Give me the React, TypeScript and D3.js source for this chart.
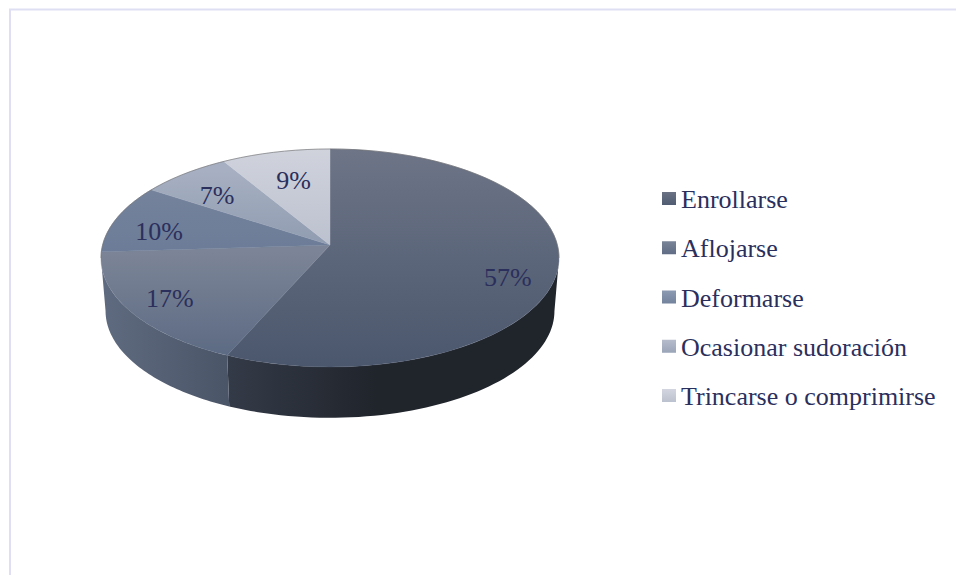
import React from "react";
import * as d3 from "d3";

const categories = ["Enrollarse", "Aflojarse", "Deformarse", "Ocasionar sudoración", "Trincarse o comprimirse"];
const percents = [56.6, 17.4, 10.2, 7.2, 8.6];

const topLight = ["#6d7587", "#7c8597", "#74829b", "#a7b0c2", "#d0d3dc"];
const topDark = ["#4b576d", "#5c6a83", "#6c7c98", "#8f9bb0", "#bcc1cf"];
const wallRight = ["#20242b", "#4b5568", "#5a667c", "#5a667c", "#5a667c"];
const wallLeft = ["#343b48", "#5f6b80", "#5f6b80", "#5f6b80", "#5f6b80"];
const swatchLight = ["#6a7284", "#7a8497", "#8c9ab2", "#b6bccb", "#d3d6df"];
const swatchDark = ["#505c72", "#5f6c84", "#74839d", "#9aa5b8", "#bcc1cf"];
const labelRadius = [0.78, 0.7, 0.72, 0.72, 0.72];
const labelShift = [[1, 15], [-23, 8], [-16, 6], [-6, 3], [4, 4]];

const W = 956, H = 575;
const cx = 330, apexY = 245, rx = 227.4, ry = 107.45, persp = 0.119;
const midY = 258, wallDrop = 53, wallScale = 0.98;
const textColor = "#2b2f5c";
const font = "'Liberation Serif', serif";

const project = (a: number, r = 1): [number, number] => {
  const u = Math.sin(a) * r;
  const v = -Math.cos(a) * r;
  const w = 1 - persp * v;
  return [cx + (rx * u) / w, apexY + (ry * v) / w];
};
const lower = ([x, y]: [number, number]): [number, number] => [
  cx + wallScale * (x - cx),
  midY + wallDrop + wallScale * (y - midY),
];
const line = d3.line();
const samples = (a0: number, a1: number) =>
  d3.range(0, 61).map((i) => a0 + ((a1 - a0) * i) / 60);

export default function App() {
  const arcs = d3.pie<number>().sort(null)(percents);
  const startA = Math.PI - Math.acos(persp);
  const endA = 2 * Math.PI - startA;
  const legendY = d3.scalePoint<string>().domain(categories).range([208, 405]);

  return (
    <svg width={W} height={H} style={{ position: "fixed", left: 0, top: 0, background: "#fff" }}>
      <defs>
        {arcs.map((_, i) => (
          <React.Fragment key={i}>
            <linearGradient id={`top${i}`} gradientUnits="userSpaceOnUse" x1={0} x2={0} y1={149} y2={367}>
              <stop offset={i === 0 ? 0 : i === 1 ? 0.47 : i === 2 ? 0.2 : i === 3 ? 0.1 : 0} stopColor={topLight[i]} />
              <stop offset={i === 0 ? 1 : i === 1 ? 0.95 : i === 2 ? 0.48 : i === 3 ? 0.45 : 0.45} stopColor={topDark[i]} />
            </linearGradient>
            <linearGradient id={`wall${i}`} gradientUnits="userSpaceOnUse" x1={i === 0 ? 560 : 227} x2={i === 0 ? 227 : 100} y1={0} y2={0}>
              <stop offset={0} stopColor={wallRight[i]} />
              <stop offset={i === 0 ? 0.55 : 1} stopColor={i === 0 ? wallRight[i] : wallLeft[i]} />
              <stop offset={1} stopColor={wallLeft[i]} />
            </linearGradient>
            <linearGradient id={`sw${i}`} x1={0} x2={0} y1={0} y2={1}>
              <stop offset={0} stopColor={swatchLight[i]} />
              <stop offset={1} stopColor={swatchDark[i]} />
            </linearGradient>
          </React.Fragment>
        ))}
      </defs>

      <path d={`M10 575V9.5H956`} fill="none" stroke="#dedff2" strokeWidth={2} />

      {arcs.map((d, i) => {
        const a0 = Math.max(d.startAngle, startA);
        const a1 = Math.min(d.endAngle, endA);
        if (a1 <= a0) return null;
        const rim = samples(a0, a1).map((a) => project(a));
        const pts = [...rim, ...rim.map(lower).reverse()];
        return <path key={i} d={line(pts)! + "Z"} fill={`url(#wall${i})`} />;
      })}

      {arcs.map((d, i) => {
        const pts: [number, number][] = [project(0, 0), ...samples(d.startAngle, d.endAngle).map((a) => project(a))];
        return <path key={i} d={line(pts)! + "Z"} fill={`url(#top${i})`} stroke={`url(#top${i})`} strokeWidth={0.4} />;
      })}

      <path
        d={line(samples(endA, 2 * Math.PI + startA).map((a) => project(a)))!}
        fill="none"
        stroke="#6f6f72"
        strokeWidth={0.8}
        opacity={0.8}
      />

      {arcs.map((d, i) => {
        const mid = (d.startAngle + d.endAngle) / 2;
        const [x, y] = project(mid, labelRadius[i]);
        return (
          <text key={i} x={x + labelShift[i][0]} y={y + labelShift[i][1]} textAnchor="middle" dominantBaseline="central"
            fontFamily={font} fontSize={26} fill={textColor}>
            {Math.round(percents[i])}%
          </text>
        );
      })}

      {categories.map((c, i) => (
        <g key={c}>
          <rect x={662} y={legendY(c)! - 16} width={14} height={13} fill={`url(#sw${i})`} />
          <text x={681} y={legendY(c)!} fontFamily={font} fontSize={26} fill={textColor}>
            {c}
          </text>
        </g>
      ))}
    </svg>
  );
}
